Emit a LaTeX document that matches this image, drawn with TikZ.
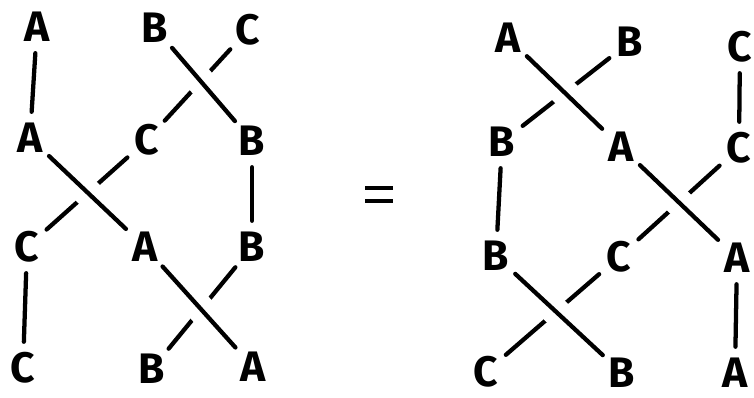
\documentclass[tikz,border=0pt]{standalone}
\usepackage{fontspec}
\setmainfont{Fira Sans}
\tikzset{
  lbl/.style={circle, inner sep=0pt, minimum size=37pt,
    font=\fontsize{32}{32}\selectfont\bfseries},
  strand/.style={line width=3.2pt, line cap=round, shorten <=1pt, shorten >=1pt},
  halo/.style={white, line width=21pt, shorten <=3pt, shorten >=3pt},
}
\newcommand\overstrand[2]{\draw[halo] (#1) -- (#2); \draw[strand] (#1) -- (#2);}
\begin{document}
\begin{tikzpicture}[x=0.75pt, y=-0.75pt]
\fill[white] (0,0) rectangle (754,398);
\useasboundingbox (0,0) rectangle (754,398);
% left side
\node[lbl] (a1) at (37,27) {A};
\node[lbl] (b1) at (155,28) {B};
\node[lbl] (c1) at (248,30) {C};
\node[lbl] (a2) at (30,138) {A};
\node[lbl] (c2) at (147,140) {C};
\node[lbl] (b2) at (252,141) {B};
\node[lbl] (c3) at (27,247) {C};
\node[lbl] (a3) at (145,247) {A};
\node[lbl] (b3) at (252,247) {B};
\node[lbl] (c4) at (23,368) {C};
\node[lbl] (b4) at (152,369) {B};
\node[lbl] (a4) at (253,367) {A};
\draw[strand] (a1) -- (a2);
\draw[strand] (c1) -- (c2);
\overstrand{b1}{b2}
\draw[strand] (b2) -- (b3);
\draw[strand] (c2) -- (c3);
\overstrand{a2}{a3}
\draw[strand] (c3) -- (c4);
\draw[strand] (b3) -- (b4);
\overstrand{a3}{a4}
% equals sign
\coordinate (e1) at (365,188); \coordinate (e2) at (393,188);
\coordinate (e3) at (365,201); \coordinate (e4) at (393,201);
\draw[line width=3pt] (e1) -- (e2);
\draw[line width=3pt] (e3) -- (e4);
% right side
\node[lbl] (A1) at (508,38) {A};
\node[lbl] (B1) at (630,42) {B};
\node[lbl] (C1) at (740,47) {C};
\node[lbl] (B2) at (502,142) {B};
\node[lbl] (A2) at (621,147) {A};
\node[lbl] (C2) at (739,148) {C};
\node[lbl] (B3) at (496,256) {B};
\node[lbl] (C3) at (619,257) {C};
\node[lbl] (A3) at (737,258) {A};
\node[lbl] (C4) at (486,372) {C};
\node[lbl] (B4) at (622,373) {B};
\node[lbl] (A4) at (735,373) {A};
\draw[strand] (B1) -- (B2);
\overstrand{A1}{A2}
\draw[strand] (C1) -- (C2);
\draw[strand] (B2) -- (B3);
\draw[strand] (C2) -- (C3);
\overstrand{A2}{A3}
\draw[strand] (A3) -- (A4);
\draw[strand] (C3) -- (C4);
\overstrand{B3}{B4}
\end{tikzpicture}
\end{document}
